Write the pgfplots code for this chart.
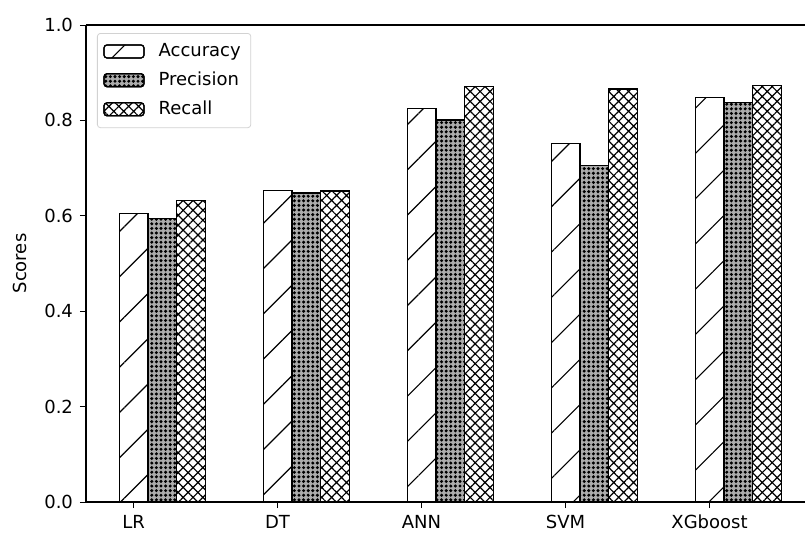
\documentclass[border=0pt]{standalone}
\usepackage{pgfplots}
\pgfplotsset{compat=1.18}
\usepackage{fontspec}
\setmainfont{DejaVu Sans}
\usetikzlibrary{patterns.meta}
\newcommand{\fs}{\fontsize{9}{11}\selectfont}
\begin{document}
\begin{tikzpicture}
\useasboundingbox (-43pt,-15pt) rectangle (359.5pt,251pt);
\begin{axis}[
  scale only axis, width=359.5pt, height=238.5pt,
  xmin=-0.33, xmax=4.663, ymin=0, ymax=1,
  axis x line*=box, axis y line*=left,
  xtick={0,1,2,3,4}, xticklabels={LR,DT,ANN,SVM,XGboost},
  xtick pos=bottom, ytick pos=left,
  ytick={0,0.2,0.4,0.6,0.8,1.0},
  yticklabel style={/pgf/number format/fixed,/pgf/number format/fixed zerofill,/pgf/number format/precision=1},
  /pgf/number format/assume math mode=true,
  tick align=outside, major tick length=3pt,
  tick style={black, line width=0.5pt},
  axis line style={line width=0.6pt},
  every tick label/.append style={font=\fs},
  ylabel={Scores},
  every axis y label/.style={at={(axis description cs:-0.0918,0.5)}, rotate=90, anchor=center, font=\fs},
  ybar, bar width=0.2,
  legend cell align=left,
  legend image code/.code={\draw[#1, line width=0.6pt] (0pt,-3.25pt) rectangle (20pt,3.25pt); \path (25pt,0pt);},
  legend style={at={(0,1)}, anchor=north west, xshift=5.5pt, yshift=-4pt,
    draw=gray!35, rounded corners=1.5pt, font=\fs, inner xsep=3pt, inner ysep=3pt,
    row sep=2.2pt},
]
\addplot[bar shift=0pt, draw=black, line width=0.6pt, fill=white,
  postaction={pattern={Lines[angle=45,distance=16pt,line width=0.55pt]}}]
  coordinates {(0,0.604) (1,0.653) (2,0.825) (3,0.751) (4,0.848)};
\addlegendentry{Accuracy}
\addplot[bar shift=0pt, draw=black, line width=0.6pt, fill=gray!65,
  postaction={pattern={Dots[distance=2.3pt,radius=0.85pt]}}]
  coordinates {(0.2,0.595) (1.2,0.648) (2.2,0.801) (3.2,0.706) (4.2,0.837)};
\addlegendentry{Precision}
\addplot[bar shift=0pt, draw=black, line width=0.6pt, fill=white,
  postaction={pattern={Hatch[angle=45,distance=3.5pt,line width=0.6pt]}}]
  coordinates {(0.4,0.632) (1.4,0.652) (2.4,0.871) (3.4,0.866) (4.4,0.874)};
\addlegendentry{Recall}
\end{axis}
\end{tikzpicture}
\end{document}
